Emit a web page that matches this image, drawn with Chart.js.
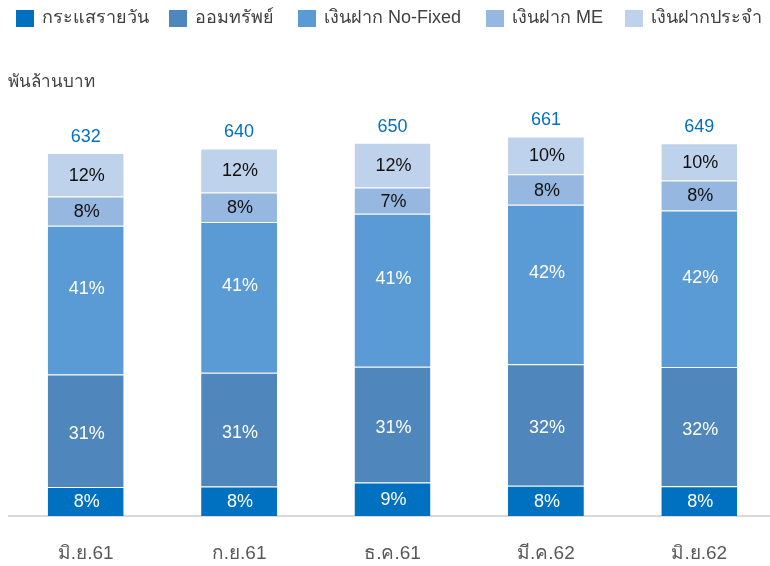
<!DOCTYPE html>
<html>
<head>
<meta charset="utf-8">
<script src="https://cdn.jsdelivr.net/npm/chart.js@4/dist/chart.umd.min.js"></script>
<style>
  html, body { margin: 0; padding: 0; background: #ffffff; overflow: hidden; }
  #wrap { width: 776px; height: 566px; }
</style>
</head>
<body>
<div id="wrap"><canvas id="c" width="776" height="566"></canvas></div>
<script>
// Deposit structure by quarter (billion baht) with share of each deposit type (%)
const categories = ['มิ.ย.61', 'ก.ย.61', 'ธ.ค.61', 'มี.ค.62', 'มิ.ย.62'];
const totals = [632, 640, 650, 661, 649];
const seriesNames = ['กระแสรายวัน', 'ออมทรัพย์', 'เงินฝาก No-Fixed', 'เงินฝาก ME', 'เงินฝากประจำ'];
const currentPct = [8, 8, 9, 8, 8];
const savingsPct = [31, 31, 31, 32, 32];
const noFixedPct = [41, 41, 41, 42, 42];
const mePct = [8, 8, 7, 8, 8];
const fixedPct = [12, 12, 12, 10, 10];
const unitLabel = 'พันล้านบาท';

const colors = ['#0070C0', '#4F87BC', '#5B9BD5', '#96B8E0', '#BFD2EB'];
const labelColors = ['#ffffff', '#ffffff', '#ffffff', '#111111', '#111111'];
const labelShift = [0, 2, -12, 0, 0];
const legendX = [16, 169, 298, 486, 625];
const FONT = '"Liberation Sans", Arial, "Noto Sans", "DejaVu Sans", sans-serif';

const pctSets = [currentPct, savingsPct, noFixedPct, mePct, fixedPct];

const datasets = pctSets.map((pcts, i) => ({
  label: seriesNames[i],
  pct: pcts,
  data: pcts.map((p, j) => totals[j] * p / 100),
  backgroundColor: colors[i],
  borderColor: 'rgba(255,255,255,0.45)',
  borderWidth: { top: 1, left: 0, right: 0, bottom: 0 },
  borderSkipped: false,
  barPercentage: 0.5,
  categoryPercentage: 0.99
}));

const labelsPlugin = {
  id: 'labels',
  afterDatasetsDraw(chart) {
    const ctx = chart.ctx;
    ctx.save();
    ctx.font = '18px ' + FONT;
    ctx.textAlign = 'center';
    ctx.textBaseline = 'middle';
    chart.data.datasets.forEach((ds, i) => {
      const meta = chart.getDatasetMeta(i);
      meta.data.forEach((bar, j) => {
        const yMid = (bar.y + bar.base) / 2 + labelShift[i];
        ctx.fillStyle = labelColors[i];
        ctx.fillText(ds.pct[j] + '%', bar.x + 1, yMid + 1);
      });
    });
    // totals above each stack
    const topMeta = chart.getDatasetMeta(chart.data.datasets.length - 1);
    ctx.fillStyle = '#0070C0';
    topMeta.data.forEach((bar, j) => {
      ctx.fillText(String(totals[j]), bar.x, bar.y - 16);
    });
    ctx.restore();
  },
  afterDraw(chart) {
    const ctx = chart.ctx;
    ctx.save();
    // legend
    ctx.font = '18px ' + FONT;
    ctx.textBaseline = 'middle';
    ctx.textAlign = 'left';
    seriesNames.forEach((name, i) => {
      const x = legendX[i];
      ctx.fillStyle = colors[i];
      ctx.fillRect(x, 10, 18, 17);
      ctx.fillStyle = '#404040';
      ctx.fillText(name, x + 26, 18);
    });
    // unit
    ctx.font = '17px ' + FONT;
    ctx.fillStyle = '#404040';
    ctx.fillText(unitLabel, 8, 82);
    ctx.restore();
  }
};

new Chart(document.getElementById('c'), {
  type: 'bar',
  data: { labels: categories, datasets },
  options: {
    responsive: false,
    animation: false,
    layout: { padding: { left: 9, right: 0, top: 114, bottom: 0 } },
    plugins: { legend: { display: false }, tooltip: { enabled: false } },
    scales: {
      x: {
        stacked: true,
        grid: { display: false },
        border: { display: true, color: '#D9D9D9', width: 2 },
        ticks: { color: '#595959', font: { size: 19, family: FONT }, padding: 18, maxRotation: 0 },
        afterFit(scale) { scale.height = 50; }
      },
      y: {
        stacked: true,
        display: false,
        min: 0,
        max: 700
      }
    }
  },
  plugins: [labelsPlugin]
});
</script>
</body>
</html>
